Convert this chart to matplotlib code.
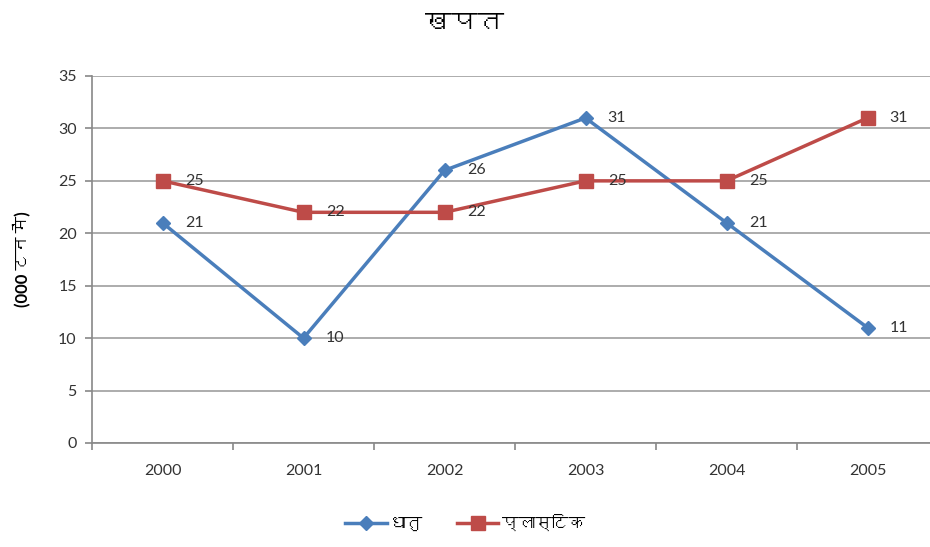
import numpy as np
import matplotlib
matplotlib.use("Agg")
import matplotlib.pyplot as plt
from matplotlib import font_manager
from matplotlib.ft2font import FT2Font

years = ["2000", "2001", "2002", "2003", "2004", "2005"]
dhatu = [21, 10, 26, 31, 21, 11]
plastic = [25, 22, 22, 25, 25, 31]
title = "खपत"
ylabel = "(000 टन में)"
series_names = ["धातु", "प्लास्टिक"]


def find_deva_font():
    # look for any installed font that has Devanagari glyphs
    for f in font_manager.fontManager.ttflist:
        try:
            cmap = FT2Font(f.fname).get_charmap()
        except Exception:
            continue
        if 0x0916 in cmap and 0x092A in cmap:
            return f.name
    return None


deva = find_deva_font()
fams = ["Lato", "DejaVu Sans"]
if deva:
    fams = ["Lato", deva, "DejaVu Sans"]
plt.rcParams["font.family"] = fams

blue = "#4A7EBB"
red = "#BE4B48"
txt = "#333333"

fig = plt.figure(figsize=(9.3, 5.47), dpi=100)
ax = fig.add_axes([92 / 930, 104 / 547, 846 / 930, 367 / 547])

x = np.arange(len(years))
ax.plot(x, dhatu, color=blue, lw=2.5, marker="D", ms=7.5, label=series_names[0])
ax.plot(x, plastic, color=red, lw=2.5, marker="s", ms=10, label=series_names[1])

for xi, v in zip(x, dhatu):
    ax.annotate(str(v), (xi, v), xytext=(16, 0), textcoords="offset points",
                va="center", ha="left", fontsize=11.5, color=txt)
for xi, v in zip(x, plastic):
    ax.annotate(str(v), (xi, v), xytext=(16, 0), textcoords="offset points",
                va="center", ha="left", fontsize=11.5, color=txt)

ax.set_xlim(-0.5, len(years) - 0.5)
ax.set_ylim(0, 35)
ax.set_yticks(np.arange(0, 36, 5))
ax.set_xticks(x)
ax.set_xticklabels(years)
ax.set_xticks(np.arange(-0.5, len(years), 1), minor=True)
ax.tick_params(axis="x", which="major", length=0, pad=15, labelsize=11.5, labelcolor=txt)
ax.tick_params(axis="x", which="minor", length=5, color="#888888", width=1.2)
ax.tick_params(axis="y", length=5, color="#888888", width=1.2, labelsize=11.5,
               labelcolor=txt, pad=6)

ax.grid(axis="y", color="#A6A6A6", lw=1.3)
ax.set_axisbelow(True)
for s in ["top", "right"]:
    ax.spines[s].set_visible(False)
ax.spines["left"].set_color("#888888")
ax.spines["left"].set_linewidth(1.2)
ax.spines["bottom"].set_color("#888888")
ax.spines["bottom"].set_linewidth(1.2)

ax.set_ylabel(ylabel, fontsize=12, fontweight="bold", color="black", labelpad=20)
fig.suptitle(title, x=0.5, y=0.98, fontsize=19, fontweight="bold")

fig.legend(loc="center", bbox_to_anchor=(0.5, 0.043), ncol=2, frameon=False,
           fontsize=12, handlelength=2.5, columnspacing=2.0, handletextpad=0.2)

fig.savefig("out.png", dpi=100)
